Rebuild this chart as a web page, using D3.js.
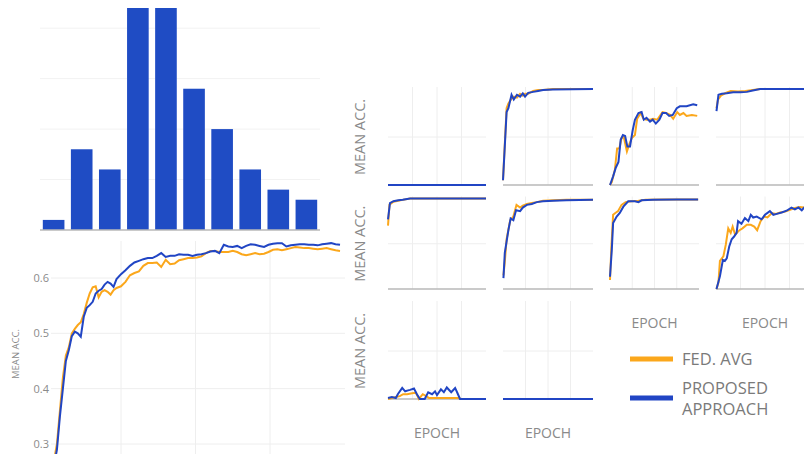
<!DOCTYPE html>
<html>
<head>
<meta charset="utf-8">
<script src="https://cdn.jsdelivr.net/npm/d3@7"></script>
<style>
  body { margin: 0; background: #fff; }
  text { font-family: "Open Sans", sans-serif; fill: #8a8a8a; }
</style>
</head>
<body>
<div id="chart"></div>
<script>
// histogram (top left)
const histBins = [1, 2, 3, 4, 5, 6, 7, 8, 9, 10];
const histCounts = [1, 8, 6, 25, 25, 14, 10, 6, 4, 3];
const histTicks = [5, 10, 15, 20];

// mean accuracy over all clients (bottom left)
const meanEpochs = [5, 7, 9, 11, 13, 15, 17, 19, 21, 23, 25, 27, 29, 31, 33, 35, 37, 39, 41, 43, 45, 47,
  50, 53, 56, 59, 62, 65, 68, 71, 74, 77, 80, 83, 86, 89, 92, 95, 98, 101, 104, 107, 110, 113, 116, 119,
  122, 125, 128, 131, 134, 137, 140, 143, 146, 149, 152, 155, 158, 161, 164, 167, 170, 173, 176, 179,
  182, 185, 188, 191, 194, 197];
const meanFedAvg = [0.27, 0.30, 0.36, 0.42, 0.46, 0.475, 0.50, 0.508, 0.515, 0.52, 0.535, 0.555, 0.572, 0.583, 0.585, 0.565, 0.575, 0.578, 0.575, 0.57, 0.578, 0.582,
  0.585, 0.593, 0.605, 0.609, 0.612, 0.622, 0.627, 0.627, 0.628, 0.62, 0.633, 0.625, 0.626, 0.632, 0.634, 0.636, 0.636, 0.637, 0.639, 0.645, 0.649, 0.649, 0.647, 0.647,
  0.647, 0.649, 0.647, 0.643, 0.641, 0.643, 0.645, 0.643, 0.644, 0.647, 0.651, 0.652, 0.650, 0.652, 0.654, 0.656, 0.655, 0.654, 0.654, 0.653,
  0.652, 0.653, 0.654, 0.652, 0.650, 0.649];
const meanProposed = [0.26, 0.29, 0.35, 0.40, 0.45, 0.47, 0.495, 0.503, 0.50, 0.494, 0.53, 0.546, 0.551, 0.557, 0.572, 0.577, 0.58, 0.588, 0.593, 0.59, 0.584, 0.598,
  0.607, 0.614, 0.622, 0.628, 0.631, 0.634, 0.636, 0.636, 0.64, 0.645, 0.638, 0.64, 0.64, 0.643, 0.642, 0.642, 0.640, 0.642, 0.643, 0.645, 0.648, 0.649, 0.645, 0.66,
  0.657, 0.656, 0.658, 0.654, 0.658, 0.661, 0.660, 0.658, 0.656, 0.660, 0.662, 0.663, 0.663, 0.657, 0.659, 0.660, 0.661, 0.661, 0.660, 0.660,
  0.659, 0.661, 0.662, 0.663, 0.661, 0.660];
const meanTicks = [0.3, 0.4, 0.5, 0.6];

// per-client curves, [epoch, accuracy]
const c11Fed = [[0, 0], [200, 0]];
const c11Prop = [[0, 0], [200, 0]];
const c12Fed = [[0, 0.05], [8, 0.8], [12, 0.85], [19, 0.9], [24, 0.92], [31, 0.91], [38, 0.95], [44, 0.93], [49, 0.95], [56, 0.95], [67, 0.98], [78, 0.99], [89, 0.99], [111, 1.0], [200, 1.0]];
const c12Prop = [[0, 0.05], [8, 0.76], [12, 0.80], [19, 0.94], [24, 0.89], [31, 0.94], [38, 0.92], [44, 0.955], [49, 0.92], [56, 0.96], [67, 0.97], [78, 0.98], [89, 0.99], [111, 0.995], [200, 1.0]];
const c13Fed = [[0, 0], [4, 0.03], [11, 0.16], [16, 0.38], [21, 0.38], [26, 0.49], [31, 0.50], [38, 0.35], [43, 0.42], [49, 0.49], [56, 0.52], [61, 0.69], [69, 0.75], [75, 0.69], [82, 0.68], [90, 0.68], [97, 0.69], [106, 0.68], [118, 0.76], [126, 0.75], [135, 0.73], [142, 0.69], [151, 0.76], [157, 0.73], [165, 0.75], [172, 0.72], [184, 0.73], [196, 0.72]];
const c13Prop = [[0, 0], [7, 0.09], [13, 0.18], [19, 0.24], [24, 0.47], [29, 0.52], [34, 0.51], [39, 0.40], [45, 0.40], [51, 0.57], [56, 0.68], [64, 0.75], [71, 0.76], [76, 0.68], [82, 0.70], [90, 0.66], [96, 0.68], [103, 0.64], [111, 0.68], [118, 0.75], [126, 0.75], [133, 0.72], [141, 0.73], [150, 0.80], [157, 0.82], [172, 0.82], [187, 0.84], [196, 0.83]];
const c14Fed = [[1, 0.80], [4, 0.89], [10, 0.93], [20, 0.96], [30, 0.98], [45, 0.975], [60, 0.98], [75, 0.99], [90, 1.0], [200, 1.0]];
const c14Prop = [[1, 0.77], [5, 0.94], [12, 0.95], [22, 0.955], [35, 0.965], [50, 0.965], [63, 0.97], [75, 0.985], [90, 1.0], [200, 1.0]];
const c21Fed = [[0, 0.70], [3, 0.93], [11, 0.965], [21, 0.975], [30, 0.985], [45, 1.0], [200, 1.0]];
const c21Prop = [[0, 0.77], [4, 0.95], [11, 0.97], [21, 0.98], [30, 0.985], [45, 1.0], [200, 1.0]];
const c22Fed = [[1, 0.15], [4, 0.30], [8, 0.55], [16, 0.76], [23, 0.80], [30, 0.93], [38, 0.90], [44, 0.92], [53, 0.94], [64, 0.95], [75, 0.96], [89, 0.975], [112, 0.98], [141, 0.985], [200, 0.985]];
const c22Prop = [[1, 0.12], [4, 0.40], [12, 0.65], [17, 0.78], [23, 0.76], [29, 0.87], [38, 0.86], [44, 0.90], [53, 0.93], [64, 0.94], [75, 0.96], [89, 0.97], [112, 0.975], [141, 0.98], [200, 0.985]];
const c23Fed = [[0, 0.10], [3, 0.45], [7, 0.82], [12, 0.84], [18, 0.86], [26, 0.93], [35, 0.96], [48, 0.97], [64, 0.975], [80, 0.985], [120, 0.99], [198, 0.99]];
const c23Prop = [[0, 0.135], [4, 0.43], [7, 0.73], [15, 0.80], [22, 0.84], [30, 0.91], [41, 0.97], [56, 0.97], [64, 0.96], [71, 0.98], [97, 0.985], [150, 0.99], [198, 0.99]];
const c24Fed = [[1, 0], [5, 0.07], [8, 0.31], [15, 0.36], [20, 0.49], [25, 0.67], [30, 0.62], [34, 0.69], [39, 0.60], [48, 0.65], [54, 0.67], [63, 0.71], [71, 0.71], [78, 0.69], [84, 0.65], [91, 0.75], [98, 0.80], [105, 0.79], [114, 0.84], [122, 0.83], [131, 0.845], [141, 0.855], [151, 0.875], [161, 0.895], [171, 0.905], [180, 0.90], [200, 0.9]];
const c24Prop = [[1, 0], [8, 0.14], [14, 0.32], [18, 0.31], [22, 0.34], [27, 0.47], [32, 0.55], [37, 0.58], [42, 0.62], [45, 0.75], [52, 0.72], [59, 0.785], [66, 0.75], [71, 0.82], [76, 0.79], [83, 0.80], [93, 0.77], [100, 0.82], [110, 0.86], [117, 0.82], [124, 0.83], [134, 0.845], [144, 0.865], [154, 0.90], [161, 0.88], [168, 0.90], [175, 0.87], [180, 0.90], [190, 0.89], [200, 0.9]];
const c31Fed = [[0, 0], [8, 0.01], [24, 0.03], [31, 0.05], [39, 0.05], [49, 0.06], [57, 0.065], [63, 0], [71, 0.05], [78, 0.03], [84, 0.01], [143, 0.01], [150, 0], [200, 0]];
const c31Prop = [[0, 0.01], [8, 0.02], [16, 0.01], [20, 0.05], [29, 0.115], [35, 0.08], [41, 0.09], [45, 0.095], [53, 0.11], [59, 0.05], [65, 0], [75, 0], [82, 0.07], [90, 0.05], [96, 0.08], [100, 0.04], [108, 0.10], [114, 0.07], [120, 0.12], [129, 0.07], [137, 0.115], [141, 0.07], [147, 0], [200, 0]];
const c32Fed = [[0, 0], [200, 0]];
const c32Prop = [[0, 0], [200, 0]];

const epochTicks = [50, 100, 150];
const legendLabels = [["FED. AVG"], ["PROPOSED", "APPROACH"]];

const orange = "#fba71b";
const blue = "#2145c4";
const grid = "#eeeeee";
const axisGray = "#b9b9b9";

const width = 804;
const height = 454;

const svg = d3.select("#chart")
  .append("svg")
  .attr("width", width)
  .attr("height", height);

const defs = svg.append("defs");

// ---------- histogram ----------
const hx = d3.scaleBand().domain(histBins).range([40, 320]).paddingInner(0.23).paddingOuter(0.1);
const hy = d3.scaleLinear().domain([0, 22]).range([230, 8]);

defs.append("clipPath").attr("id", "histClip")
  .append("rect").attr("x", 40).attr("y", 8).attr("width", 280).attr("height", 222);

svg.append("g").selectAll("line")
  .data(histTicks)
  .join("line")
  .attr("x1", 40).attr("x2", 320)
  .attr("y1", (d) => hy(d)).attr("y2", (d) => hy(d))
  .attr("stroke", "#f2f2f2");

svg.append("g").attr("clip-path", "url(#histClip)")
  .selectAll("rect")
  .data(histCounts)
  .join("rect")
  .attr("x", (d, i) => hx(histBins[i]))
  .attr("width", hx.bandwidth())
  .attr("y", (d) => hy(d))
  .attr("height", (d) => hy(0) - hy(d))
  .attr("fill", "#1f4cc4");

svg.append("line")
  .attr("x1", 40).attr("x2", 320)
  .attr("y1", hy(0)).attr("y2", hy(0))
  .attr("stroke", axisGray).attr("stroke-width", 1.5);

// ---------- mean accuracy line chart ----------
const mx = d3.scaleLinear().domain([0, 200]).range([46.5, 344.5]);
const my = d3.scaleLinear().domain([0.3, 0.6]).range([444, 278]);

const mean = svg.append("g");

mean.selectAll(".vgrid")
  .data(epochTicks)
  .join("line")
  .attr("x1", (d) => mx(d)).attr("x2", (d) => mx(d))
  .attr("y1", 241).attr("y2", height)
  .attr("stroke", grid);

mean.selectAll(".hgrid")
  .data(meanTicks)
  .join("line")
  .attr("x1", 51).attr("x2", 345)
  .attr("y1", (d) => my(d)).attr("y2", (d) => my(d))
  .attr("stroke", grid);

mean.selectAll(".tick-label")
  .data(meanTicks)
  .join("text")
  .attr("x", 49)
  .attr("y", (d) => my(d) + 4)
  .attr("text-anchor", "end")
  .style("font-size", "11px")
  .text((d) => d.toFixed(1));

mean.append("text")
  .attr("transform", "translate(19, 354) rotate(-90)")
  .attr("text-anchor", "middle")
  .style("font-size", "9.5px")
  .text("MEAN ACC.");

const meanLine = (vals) => d3.line()
  .x((d, i) => mx(meanEpochs[i]))
  .y((d) => my(d))(vals);

mean.append("path").attr("d", meanLine(meanFedAvg))
  .attr("fill", "none").attr("stroke", orange).attr("stroke-width", 2);
mean.append("path").attr("d", meanLine(meanProposed))
  .attr("fill", "none").attr("stroke", blue).attr("stroke-width", 2);

// ---------- per-client small multiples ----------
const colX = [388, 503, 610, 716];
const colW = [98, 90, 89, 98];
const rowBase = [185, 289, 399];
const rowH = [96, 90.5, 96];

const panels = [
  { row: 0, col: 0, fed: c11Fed, prop: c11Prop },
  { row: 0, col: 1, fed: c12Fed, prop: c12Prop },
  { row: 0, col: 2, fed: c13Fed, prop: c13Prop },
  { row: 0, col: 3, fed: c14Fed, prop: c14Prop },
  { row: 1, col: 0, fed: c21Fed, prop: c21Prop },
  { row: 1, col: 1, fed: c22Fed, prop: c22Prop },
  { row: 1, col: 2, fed: c23Fed, prop: c23Prop },
  { row: 1, col: 3, fed: c24Fed, prop: c24Prop },
  { row: 2, col: 0, fed: c31Fed, prop: c31Prop },
  { row: 2, col: 1, fed: c32Fed, prop: c32Prop },
];

panels.forEach((p) => {
  const x0 = colX[p.col];
  const w = colW[p.col];
  const y0 = rowBase[p.row];
  const h = rowH[p.row];
  const x = d3.scaleLinear().domain([0, 200]).range([x0, x0 + w]);
  const y = d3.scaleLinear().domain([0, 1]).range([y0, y0 - h]);
  const top = y0 - h - 2;
  const g = svg.append("g");

  g.selectAll(".vg")
    .data(epochTicks)
    .join("line")
    .attr("x1", (d) => x(d)).attr("x2", (d) => x(d))
    .attr("y1", top).attr("y2", y0)
    .attr("stroke", grid);

  g.append("line")
    .attr("x1", x0).attr("x2", x0 + w)
    .attr("y1", y(0.5)).attr("y2", y(0.5))
    .attr("stroke", grid);

  g.append("line")
    .attr("x1", x0).attr("x2", x0 + w)
    .attr("y1", y0).attr("y2", y0)
    .attr("stroke", axisGray).attr("stroke-width", 1.5);

  const line = d3.line().x((d) => x(d[0])).y((d) => y(d[1]));
  g.append("path").attr("d", line(p.fed))
    .attr("fill", "none").attr("stroke", orange).attr("stroke-width", 2);
  g.append("path").attr("d", line(p.prop))
    .attr("fill", "none").attr("stroke", blue).attr("stroke-width", 2);
});

// row titles
rowBase.forEach((b, i) => {
  svg.append("text")
    .attr("transform", `translate(365, ${b - rowH[i] / 2}) rotate(-90)`)
    .attr("text-anchor", "middle")
    .style("font-size", "14.5px")
    .text("MEAN ACC.");
});

// x titles under the bottom panel of each column
const epochLabels = [
  { col: 0, row: 2 }, { col: 1, row: 2 }, { col: 2, row: 1 }, { col: 3, row: 1 },
];
epochLabels.forEach((d) => {
  svg.append("text")
    .attr("x", colX[d.col] + colW[d.col] / 2)
    .attr("y", rowBase[d.row] + 39)
    .attr("text-anchor", "middle")
    .style("font-size", "14px")
    .text("EPOCH");
});

// legend
const legend = svg.append("g").attr("transform", "translate(630, 359)");
[orange, blue].forEach((c, i) => {
  legend.append("line")
    .attr("x1", 0).attr("x2", 43)
    .attr("y1", i * 39).attr("y2", i * 39)
    .attr("stroke", c).attr("stroke-width", 5);
  const lines = legendLabels[i];
  lines.forEach((t, j) => {
    legend.append("text")
      .attr("x", 52)
      .attr("y", i * 39 + 6 + (j - (lines.length - 1) / 2) * 21)
      .style("font-size", "16.5px")
      .style("fill", "#7a7a7a")
      .text(t);
  });
});
</script>
</body>
</html>
